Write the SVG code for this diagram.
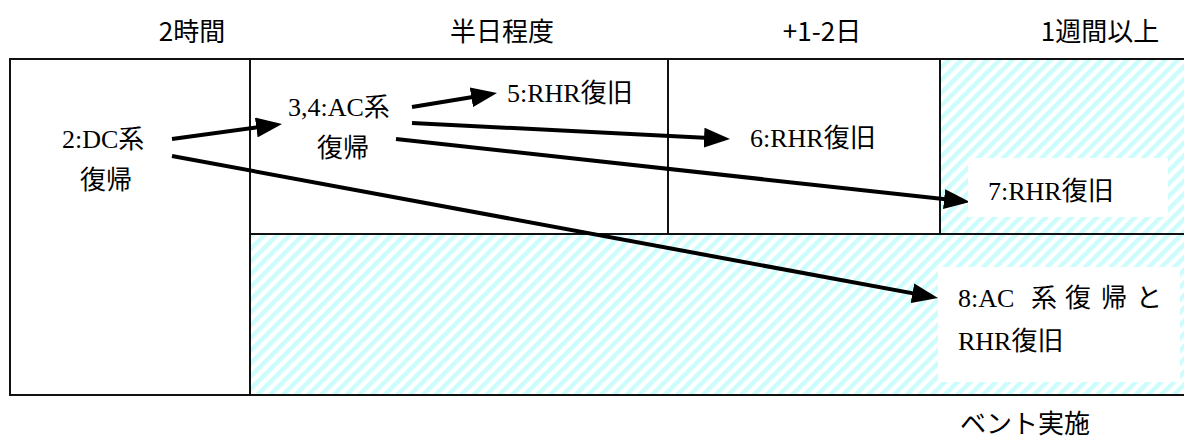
<svg xmlns="http://www.w3.org/2000/svg" width="1184" height="439" viewBox="0 0 1184 439">
<style>
.hdr{font-family:"Noto Sans CJK JP","Noto Sans",sans-serif;font-size:26px;fill:#000}
.lbl{font-family:"Liberation Serif","Noto Sans CJK JP",serif;font-size:26px;fill:#000}
.frame{fill:none;stroke:#111;stroke-width:2}
.arrow{fill:none;stroke:#000;stroke-width:4;marker-end:url(#ah)}
</style>
<defs>
<pattern id="hatch" width="9" height="9" patternUnits="userSpaceOnUse" patternTransform="rotate(45)">
<rect x="0" y="0" width="9" height="9" fill="#fff"/>
<rect x="0" y="0" width="4.5" height="9" fill="#ccfcfc"/>
</pattern>
<marker id="ah" markerUnits="userSpaceOnUse" markerWidth="26" markerHeight="20" refX="20" refY="10" orient="auto" viewBox="0 0 26 20">
<path d="M0,0 L26,10 L0,20 z" fill="#000"/>
</marker>
</defs>
<rect width="1184" height="439" fill="#fff"/>

<g id="headers">
<text class="hdr" x="192" y="41" text-anchor="middle">2時間</text>
<text class="hdr" x="502" y="41" text-anchor="middle">半日程度</text>
<text class="hdr" x="822" y="41" text-anchor="middle">+1-2日</text>
<text class="hdr" x="1100" y="41" text-anchor="middle">1週間以上</text>
</g>

<g id="cells">
<rect x="940" y="59" width="244" height="175" fill="url(#hatch)"/>
<rect x="250" y="234" width="934" height="161" fill="url(#hatch)"/>
<rect class="frame" x="10" y="59" width="240" height="336"/>
<line class="frame" x1="250" y1="59" x2="1184" y2="59"/>
<line class="frame" x1="250" y1="234" x2="1184" y2="234"/>
<line class="frame" x1="250" y1="395" x2="1184" y2="395"/>
<line class="frame" x1="668" y1="59" x2="668" y2="234"/>
<line class="frame" x1="940" y1="59" x2="940" y2="234"/>
</g>

<g id="connectors">
<line class="arrow" x1="172" y1="139" x2="276.1" y2="124.8"/>
<line class="arrow" x1="412" y1="107" x2="491.1" y2="94"/>
<line class="arrow" x1="412" y1="123" x2="724" y2="138.7"/>
<line class="arrow" x1="396" y1="139" x2="964" y2="201.3"/>
<line class="arrow" x1="172" y1="156" x2="932.1" y2="296.9"/>
</g>

<g id="n2">
<text class="lbl" x="62" y="148">2:DC系</text>
<text class="lbl" x="80" y="189">復帰</text>
</g>
<g id="n34">
<text class="lbl" x="288" y="116">3,4:AC系</text>
<text class="lbl" x="317" y="157">復帰</text>
</g>
<g id="n5">
<text class="lbl" x="507" y="102">5:RHR復旧</text>
</g>
<g id="n6">
<text class="lbl" x="750" y="147">6:RHR復旧</text>
</g>
<g id="n7">
<rect x="968" y="158" width="200" height="59" fill="#fff"/>
<text class="lbl" x="988" y="200">7:RHR復旧</text>
</g>
<g id="n8">
<rect x="938" y="267" width="242" height="115" fill="#fff"/>
<text class="lbl" y="307"><tspan x="958">8:AC</tspan><tspan x="1031">系</tspan><tspan x="1065">復</tspan><tspan x="1101">帰</tspan><tspan x="1136">と</tspan></text>
<text class="lbl" x="958" y="350">RHR復旧</text>
</g>
<g id="vent">
<text class="hdr" x="960" y="433">ベント実施</text>
</g>
</svg>
